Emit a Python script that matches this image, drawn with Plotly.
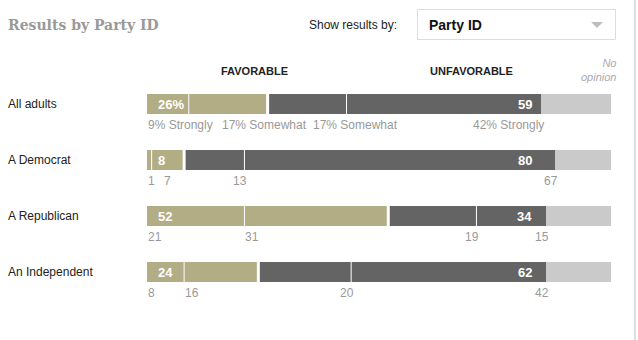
import plotly.graph_objects as go

# ---------------- data ----------------
rows = ["All adults", "A Democrat", "A Republican", "An Independent"]
fav_strong = [9, 1, 21, 8]
fav_some = [17, 7, 31, 16]
unfav_some = [17, 13, 19, 20]
unfav_strong = [42, 67, 15, 42]
no_opinion = [15, 12, 14, 14]
sub_labels = [
    ["9% Strongly", "17% Somewhat", "17% Somewhat", "42% Strongly"],
    ["1", "7", "13", "67"],
    ["21", "31", "19", "15"],
    ["8", "16", "20", "42"],
]

C_FAV = "#b3ad86"
C_UNF = "#646464"
C_NO = "#cacaca"
W, H = 638, 340
X0, X1 = 147, 611          # pixel extent of the 0..100 axis
ROW0, ROWSTEP = 104, 56    # pixel centre of first row, row pitch
BARPX = 20
FONT = "Liberation Sans, Arial, sans-serif"

def px(x):
    return x / W

def py(y):
    return 1 - y / H

fig = go.Figure()
series = [(fav_strong, C_FAV), (fav_some, C_FAV), (unfav_some, C_UNF),
          (unfav_strong, C_UNF), (no_opinion, C_NO)]
for vals, col in series:
    fig.add_trace(go.Bar(y=rows, x=vals, orientation="h", marker=dict(color=col, line=dict(width=0)),
                         width=BARPX / ROWSTEP, hoverinfo="skip"))

S = (X1 - X0) / 100.0

# arial widths (per 1000 em)
CW = {"0": 556, "1": 556, "2": 556, "3": 556, "4": 556, "5": 556, "6": 556, "7": 556, "8": 556, "9": 556,
      "%": 889, " ": 278, "S": 667, "t": 278, "r": 333, "o": 556, "n": 556, "g": 556, "l": 222,
      "y": 500, "m": 833, "e": 556, "w": 722, "h": 556, "a": 556}

def tw(s, size=12):
    return sum(CW.get(c, 556) for c in s) * size / 1000.0

shapes = []
ann = []
hb = BARPX / ROWSTEP / 2
for i, r in enumerate(rows):
    fs, fo, us, ust = fav_strong[i], fav_some[i], unfav_some[i], unfav_strong[i]
    fav = fs + fo
    unf = us + ust
    # separators
    for b, wd in [(fs, 1), (fav, 3), (fav + us, 1)]:
        shapes.append(dict(type="line", xref="x", yref="y", x0=b, x1=b, y0=i - hb - 0.02, y1=i + hb + 0.02,
                           line=dict(color="white", width=wd)))
    # totals inside bars
    ann.append(dict(x=0, y=i, xref="x", yref="y", text="<b>%d%s</b>" % (fav, "%" if i == 0 else ""),
                    xanchor="left", xshift=10, showarrow=False, borderpad=0,
                    font=dict(family=FONT, size=13, color="white")))
    ann.append(dict(x=83.2, y=i, xref="x", yref="y", text="<b>%d</b>" % unf,
                    xanchor="right", showarrow=False, borderpad=0,
                    font=dict(family=FONT, size=13, color="white")))
    # row label
    ann.append(dict(x=px(7), y=i, xref="paper", yref="y", text=r, xanchor="left", showarrow=False,
                    borderpad=0, font=dict(family=FONT, size=12, color="#222")))
    # sub labels
    segs = [(0, "l"), (fs, "l"), (fav + us, "r"), (fav + unf, "r")]
    prev_end = -1e9
    for (pos, side), lab in zip(segs, sub_labels[i]):
        w = tw(lab)
        if side == "l":
            left = pos * S
            shift = max(0, prev_end + 9 - left)
            ann.append(dict(x=pos, y=i, xref="x", yref="y", text=lab, xanchor="left", xshift=shift,
                            yshift=-21, showarrow=False, borderpad=0,
                            font=dict(family=FONT, size=12, color="#999")))
            prev_end = left + shift + w
        else:
            right = pos * S + 4
            left = right - w
            shift = max(0, prev_end + 10 - left)
            ann.append(dict(x=pos, y=i, xref="x", yref="y", text=lab, xanchor="right", xshift=4 + shift,
                            yshift=-21, showarrow=False, borderpad=0,
                            font=dict(family=FONT, size=12, color="#999")))
            prev_end = right + shift

# header texts
ann += [
    dict(x=px(7), y=py(25), xref="paper", yref="paper", text="<b>Results by Party ID</b>", xanchor="left",
         yanchor="middle", showarrow=False, borderpad=0,
         font=dict(family="DejaVu Serif", size=14, color="#999")),
    dict(x=px(308), y=py(25), xref="paper", yref="paper", text="Show results by:", xanchor="left",
         yanchor="middle", showarrow=False, borderpad=0, font=dict(family=FONT, size=12, color="#222")),
    dict(x=px(428), y=py(25), xref="paper", yref="paper", text="<b>Party ID</b>", xanchor="left",
         yanchor="middle", showarrow=False, borderpad=0, font=dict(family=FONT, size=14, color="#111")),
    dict(x=px(255), y=py(71), xref="paper", yref="paper", text="<b>FAVORABLE</b>", xanchor="center",
         yanchor="middle", showarrow=False, borderpad=0, font=dict(family=FONT, size=11, color="#222")),
    dict(x=px(471.5), y=py(71), xref="paper", yref="paper", text="<b>UNFAVORABLE</b>", xanchor="center",
         yanchor="middle", showarrow=False, borderpad=0, font=dict(family=FONT, size=11, color="#222")),
    dict(x=px(617), y=py(70), xref="paper", yref="paper", text="<i>No<br>opinion</i>", xanchor="right",
         align="right", yanchor="middle", showarrow=False, borderpad=0,
         font=dict(family=FONT, size=11, color="#aaa")),
]

shapes += [
    dict(type="rect", xref="paper", yref="paper", x0=px(417.5), x1=px(615.5), y0=py(39.5), y1=py(9.5),
         line=dict(color="#dcdcdc", width=1), fillcolor="white", layer="below"),
    dict(type="path", xref="paper", yref="paper",
         path="M %f,%f L %f,%f L %f,%f Z" % (px(591), py(22), px(603), py(22), px(597), py(28)),
         line=dict(width=0), fillcolor="#bdbdbd"),
    dict(type="line", xref="paper", yref="paper", x0=px(635), x1=px(635), y0=0, y1=1,
         line=dict(color="#dedede", width=2)),
]

fig.update_layout(
    width=W, height=H, margin=dict(l=0, r=0, t=0, b=0),
    paper_bgcolor="white", plot_bgcolor="white", showlegend=False,
    barmode="stack", bargap=0,
    xaxis=dict(visible=False, range=[0, 100], domain=[X0 / W, X1 / W], fixedrange=True),
    yaxis=dict(visible=False, type="category", categoryarray=rows,
               range=[(H - ROW0) / ROWSTEP, -ROW0 / ROWSTEP], fixedrange=True),
    annotations=ann, shapes=shapes,
)
fig.write_html("out.html", config={"displayModeBar": False})
